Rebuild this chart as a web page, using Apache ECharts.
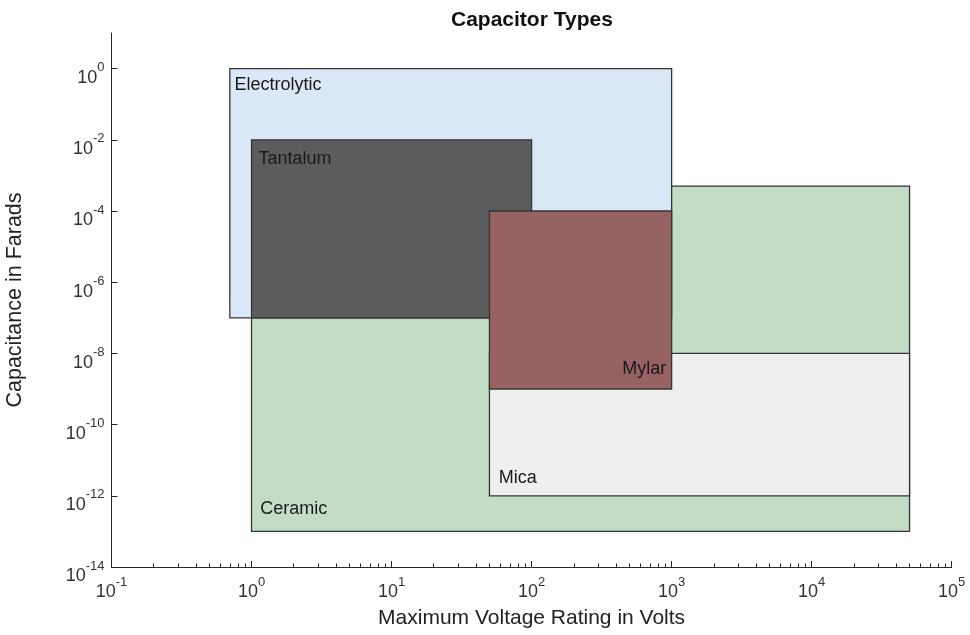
<!DOCTYPE html>
<html>
<head>
<meta charset="utf-8">
<script src="https://cdn.jsdelivr.net/npm/echarts@6/dist/echarts.min.js"></script>
<style>
html,body{margin:0;padding:0;background:#ffffff;}
#c{width:970px;height:635px;}
</style>
</head>
<body>
<div id="c"></div>
<script>
// ---- data ----
const names   = ['Ceramic', 'Electrolytic', 'Mica', 'Tantalum', 'Mylar'];
const voltMin = [1,     0.7,  50,    1,    50];
const voltMax = [5e4,   1e3,  5e4,   100,  1e3];
const capMin  = [1e-13, 1e-7, 1e-12, 1e-7, 1e-9];
const capMax  = [5e-4,  1,    1e-8,  1e-2, 1e-4];

// tick values
const xMajorTicks = [1e-1, 1e0, 1e1, 1e2, 1e3, 1e4, 1e5];
const yMajorTicks = [1e-14, 1e-12, 1e-10, 1e-8, 1e-6, 1e-4, 1e-2, 1e0];
const minorMultipliers = [2, 3, 4, 5, 6, 7, 8, 9];
const xMinorTicks = [];
xMajorTicks.slice(0, -1).forEach(d => minorMultipliers.forEach(m => xMinorTicks.push(m * d)));

// ---- styles ----
const fills = ['#c2dcc5', '#dbe8f7', '#efefef', '#5c5c5c', '#966262'];
const labelPlace = [
  {h: 'left',  v: 'bottom', dx: 8.6,  dy: -22},
  {h: 'left',  v: 'top',    dx: 4.6,  dy: 16},
  {h: 'left',  v: 'bottom', dx: 9.4,  dy: -18},
  {h: 'left',  v: 'top',    dx: 7,    dy: 19},
  {h: 'right', v: 'bottom', dx: -5.5, dy: -20}
];
const FONT = '"Liberation Sans", Arial, Helvetica, sans-serif';
const AXIS_COLOR = '#262626';

const rects = names.map((n, i) => [i, voltMin[i], voltMax[i], capMin[i], capMax[i]]);

function expLabel(v) {
  const e = Math.round(Math.log10(v));
  return '{b|10}{s|' + e + '}';
}
const richTick = {
  b: {fontSize: 18, lineHeight: 26, verticalAlign: 'bottom', fontFamily: FONT, color: '#333'},
  s: {fontSize: 13, lineHeight: 13, verticalAlign: 'top', fontFamily: FONT, color: '#333'}
};

function renderItem(params, api) {
  const i = params.dataIndex;
  const tl = api.coord([api.value(1), api.value(4)]);
  const br = api.coord([api.value(2), api.value(3)]);
  const lp = labelPlace[i];
  const tx = lp.h === 'left' ? tl[0] + lp.dx : br[0] + lp.dx;
  const ty = lp.v === 'top' ? tl[1] + lp.dy : br[1] + lp.dy;
  return {
    type: 'group',
    children: [
      {
        type: 'rect',
        shape: {x: tl[0], y: tl[1], width: br[0] - tl[0], height: br[1] - tl[1]},
        style: {fill: fills[i], stroke: '#353535', lineWidth: 1.3}
      },
      {
        type: 'text',
        x: tx, y: ty,
        style: {
          text: names[i], fontSize: 18, fontFamily: FONT, fill: '#1a1a1a',
          align: lp.h === 'left' ? 'left' : 'right', verticalAlign: 'middle'
        }
      }
    ]
  };
}

const chart = echarts.init(document.getElementById('c'), null, {renderer: 'canvas'});
chart.setOption({
  animation: false,
  backgroundColor: '#ffffff',
  title: {
    text: 'Capacitor Types',
    left: 446, top: 5,
    textStyle: {fontFamily: FONT, fontSize: 21, fontWeight: 'bold', color: '#111'}
  },
  grid: {left: 111.5, right: 18.3, top: 33, bottom: 68, containLabel: false, outerBoundsMode: 'none'},
  xAxis: [
    {
      type: 'log', logBase: 10, min: 0.1, max: 1e5, position: 'bottom',
      axisLine: {show: true, lineStyle: {color: AXIS_COLOR, width: 1}},
      axisTick: {show: true, inside: true, length: 6, customValues: xMajorTicks,
                 lineStyle: {color: AXIS_COLOR, width: 1}},
      axisLabel: {show: true, customValues: xMajorTicks, formatter: expLabel,
                  rich: richTick, margin: 8.5},
      splitLine: {show: false},
      minorTick: {show: false},
      name: 'Maximum Voltage Rating in Volts',
      nameLocation: 'middle', nameGap: 41,
      nameTextStyle: {fontFamily: FONT, fontSize: 21, color: '#222'}
    },
    {
      type: 'log', logBase: 10, min: 0.1, max: 1e5, position: 'bottom', gridIndex: 0,
      axisLine: {show: false},
      axisTick: {show: true, inside: true, length: 3.5, customValues: xMinorTicks,
                 lineStyle: {color: AXIS_COLOR, width: 1}},
      axisLabel: {show: false},
      splitLine: {show: false},
      minorTick: {show: false}
    }
  ],
  yAxis: {
    type: 'log', logBase: 10, min: 1e-14, max: 10,
    axisLine: {show: true, lineStyle: {color: AXIS_COLOR, width: 1}},
    axisTick: {show: true, inside: true, length: 6, customValues: yMajorTicks,
               lineStyle: {color: AXIS_COLOR, width: 1}},
    axisLabel: {show: true, customValues: yMajorTicks, formatter: expLabel,
                rich: richTick, margin: 7, padding: [11, 0, 0, 0]},
    splitLine: {show: false},
    minorTick: {show: false},
    name: 'Capacitance in Farads',
    nameLocation: 'middle', nameGap: 85,
    nameTextStyle: {fontFamily: FONT, fontSize: 21.5, color: '#222'}
  },
  series: [{
    type: 'custom',
    xAxisIndex: 0, yAxisIndex: 0,
    data: rects,
    encode: {x: [1, 2], y: [3, 4]},
    renderItem: renderItem,
    clip: false,
    silent: true
  }]
});
</script>
</body>
</html>
